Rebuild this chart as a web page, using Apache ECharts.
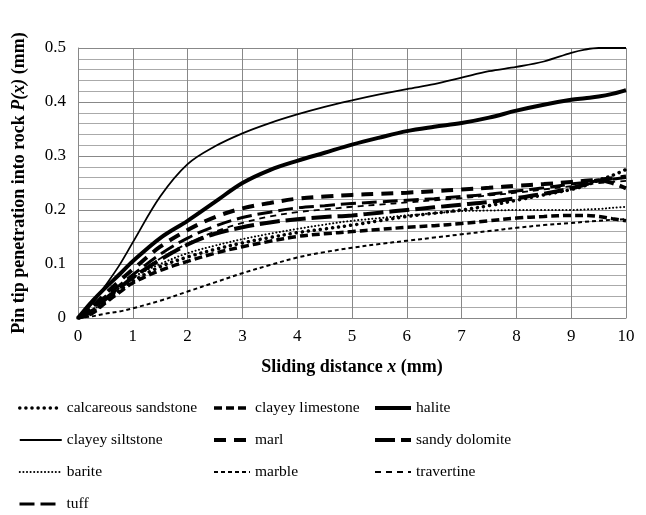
<!DOCTYPE html>
<html>
<head>
<meta charset="utf-8">
<script src="https://cdn.jsdelivr.net/npm/echarts@6/dist/echarts.min.js"></script>
<style>
  html, body { margin: 0; padding: 0; background: #fff; }
  #chart { width: 646px; height: 515px; }
</style>
</head>
<body>
<div id="chart"></div>
<script>
// Sliding distance x (mm), shared sample points for every rock
const xs = [0, 0.25, 0.5, 0.75, 1, 1.5, 2, 2.5, 3, 3.5, 4, 4.5, 5, 5.5, 6, 6.5, 7, 7.5, 8, 8.5, 9, 9.25, 9.5, 9.75, 10];

// Pin tip penetration P(x) (mm) per rock
const calcareousSandstone = [0, 0.01, 0.03, 0.05, 0.068, 0.095, 0.113, 0.127, 0.139, 0.149, 0.158, 0.165, 0.172, 0.18, 0.188, 0.194, 0.2, 0.208, 0.218, 0.228, 0.238, 0.245, 0.255, 0.264, 0.275];
const clayeyLimestone = [0, 0.008, 0.028, 0.047, 0.065, 0.088, 0.105, 0.12, 0.132, 0.142, 0.151, 0.156, 0.16, 0.164, 0.168, 0.171, 0.175, 0.18, 0.185, 0.188, 0.19, 0.19, 0.188, 0.184, 0.18];
const halite = [0, 0.03, 0.056, 0.08, 0.105, 0.148, 0.18, 0.215, 0.25, 0.274, 0.291, 0.306, 0.321, 0.334, 0.346, 0.354, 0.361, 0.371, 0.384, 0.395, 0.404, 0.407, 0.41, 0.415, 0.422];
const clayeySiltstone = [0, 0.025, 0.06, 0.097, 0.14, 0.225, 0.285, 0.318, 0.342, 0.361, 0.377, 0.391, 0.403, 0.414, 0.424, 0.433, 0.445, 0.457, 0.465, 0.475, 0.491, 0.497, 0.5, 0.5, 0.5];
const marl = [0, 0.02, 0.045, 0.068, 0.09, 0.132, 0.163, 0.187, 0.203, 0.213, 0.221, 0.225, 0.228, 0.23, 0.232, 0.235, 0.238, 0.241, 0.245, 0.248, 0.252, 0.254, 0.256, 0.259, 0.262];
const sandyDolomite = [0, 0.012, 0.035, 0.055, 0.075, 0.108, 0.136, 0.156, 0.168, 0.177, 0.183, 0.187, 0.19, 0.195, 0.2, 0.205, 0.21, 0.215, 0.222, 0.23, 0.24, 0.247, 0.255, 0.25, 0.24];
const barite = [0, 0.012, 0.035, 0.055, 0.075, 0.1, 0.12, 0.134, 0.146, 0.156, 0.165, 0.173, 0.18, 0.185, 0.19, 0.194, 0.198, 0.199, 0.2, 0.2, 0.2, 0.201, 0.202, 0.204, 0.206];
const marble = [0, 0.003, 0.008, 0.012, 0.018, 0.032, 0.049, 0.066, 0.083, 0.098, 0.112, 0.122, 0.13, 0.137, 0.143, 0.149, 0.155, 0.161, 0.167, 0.172, 0.176, 0.178, 0.18, 0.182, 0.183];
const travertine = [0, 0.015, 0.035, 0.055, 0.075, 0.11, 0.138, 0.16, 0.176, 0.188, 0.196, 0.201, 0.206, 0.21, 0.214, 0.218, 0.222, 0.227, 0.232, 0.238, 0.244, 0.247, 0.25, 0.252, 0.254];
const tuff = [0, 0.018, 0.04, 0.06, 0.08, 0.118, 0.148, 0.17, 0.186, 0.196, 0.204, 0.208, 0.212, 0.215, 0.218, 0.221, 0.225, 0.229, 0.235, 0.241, 0.248, 0.251, 0.254, 0.257, 0.26];

// Legend rows, laid out as three columns plus a last row
const legendCol1 = ['calcareous sandstone', 'clayey siltstone', 'barite'];
const legendCol2 = ['clayey limestone', 'marl', 'marble'];
const legendCol3 = ['halite', 'sandy dolomite', 'travertine'];
const legendLastRow = ['tuff'];

const FONT = '"Liberation Serif", "Times New Roman", serif';
const INK = '#000';

const pairs = ys => xs.map((x, i) => [x, ys[i]]);

function line(name, ys, width, type, cap) {
  return {
    name: name,
    type: 'line',
    data: pairs(ys),
    symbol: 'none',
    smooth: 0.35,
    animation: false,
    color: INK,
    itemStyle: { color: INK },
    lineStyle: { color: INK, width: width, type: type, cap: cap || 'butt' }
  };
}

const series = [
  line('calcareous sandstone', calcareousSandstone, 3.5, [0.1, 6], 'round'),
  line('clayey limestone', clayeyLimestone, 3.5, [8, 4]),
  line('halite', halite, 4, 'solid'),
  line('clayey siltstone', clayeySiltstone, 1.8, 'solid'),
  line('marl', marl, 4, [12, 8]),
  line('sandy dolomite', sandyDolomite, 4, [20, 6]),
  line('barite', barite, 2, [0.1, 3.5], 'round'),
  line('marble', marble, 2, [4, 3]),
  line('travertine', travertine, 1.8, [6, 5]),
  line('tuff', tuff, 3, [15, 6])
];

function legendBlock(names, left, top, iconWidth) {
  return {
    data: names,
    orient: 'vertical',
    left: left,
    top: top,
    padding: 0,
    itemWidth: iconWidth,
    itemHeight: 14,
    itemGap: 16,
    selectedMode: false,
    itemStyle: { color: 'rgba(0,0,0,0)', borderWidth: 0, opacity: 0 },
    lineStyle: { width: 'inherit' },
    textStyle: { fontFamily: FONT, fontSize: 15.5, color: INK }
  };
}

const chart = echarts.init(document.getElementById('chart'), null, { renderer: 'canvas' });
chart.setOption({
  backgroundColor: '#fff',
  animation: false,
  grid: { left: 78, right: 20, top: 48, bottom: 197, containLabel: false },
  legend: [
    legendBlock(legendCol1, 18, 400, 42),
    legendBlock(legendCol2, 212, 400, 36),
    legendBlock(legendCol3, 373, 400, 36),
    legendBlock(legendLastRow, 18, 496, 42)
  ],
  xAxis: {
    type: 'value',
    min: 0,
    max: 10,
    interval: 1,
    name: 'Sliding distance {i|x} (mm)',
    nameLocation: 'middle',
    nameGap: 40,
    nameTextStyle: {
      fontFamily: FONT, fontSize: 18, fontWeight: 'bold', color: INK,
      rich: { i: { fontFamily: FONT, fontSize: 18, fontWeight: 'bold', fontStyle: 'italic', color: INK } }
    },
    axisLine: { show: true, lineStyle: { color: '#888', width: 1 } },
    axisTick: { show: false },
    axisLabel: { fontFamily: FONT, fontSize: 17, color: INK, margin: 10 },
    splitLine: { show: true, lineStyle: { color: '#888', width: 1 } }
  },
  yAxis: {
    type: 'value',
    min: 0,
    max: 0.5,
    interval: 0.1,
    name: 'Pin tip penetration into rock {i|P(x)} (mm)',
    nameLocation: 'middle',
    nameGap: 50,
    nameRotate: 90,
    nameTextStyle: {
      fontFamily: FONT, fontSize: 18, fontWeight: 'bold', color: INK,
      rich: { i: { fontFamily: FONT, fontSize: 18, fontWeight: 'bold', fontStyle: 'italic', color: INK } }
    },
    axisLine: { show: true, lineStyle: { color: '#888', width: 1 } },
    axisTick: { show: false },
    axisLabel: { fontFamily: FONT, fontSize: 17, color: INK, margin: 12 },
    splitLine: { show: true, lineStyle: { color: '#888', width: 1 } },
    minorTick: { show: false, splitNumber: 5 },
    minorSplitLine: { show: true, lineStyle: { color: '#aaa', width: 1 } }
  },
  series: series
});
</script>
</body>
</html>
